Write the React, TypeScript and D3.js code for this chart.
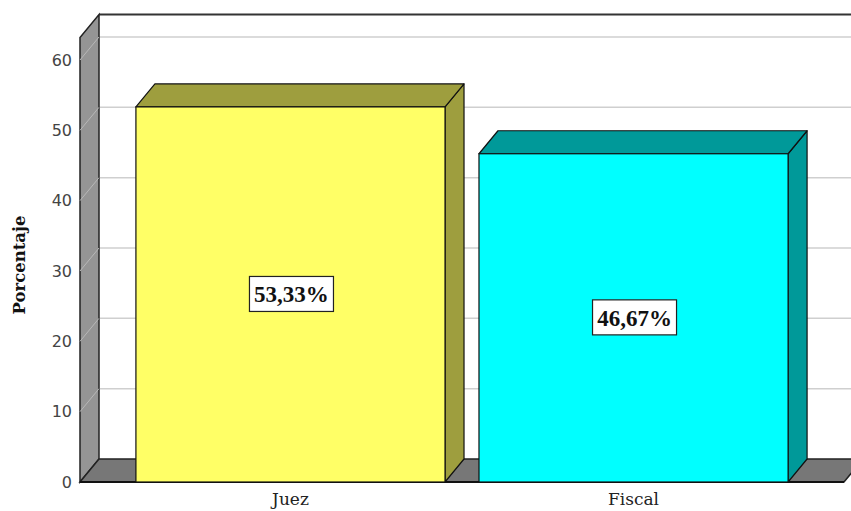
import React from "react";
import * as d3 from "d3";

const categories = ["Juez", "Fiscal"];
const values = [53.33, 46.67];
const valueLabels = ["53,33%", "46,67%"];
const yTicks = [0, 10, 20, 30, 40, 50, 60];
const frontColors = ["#FFFF66", "#00FFFF"];
const sideColors = ["#9E9E3E", "#009999"];

const W = 851;
const H = 511;
const DX = 19;
const DY = -23;
const Y_MAX = 63.2;

export default function App() {
  const x0 = 80;
  const x1 = 844;
  const y = d3.scaleLinear().domain([0, 60]).range([482, 60]);
  const x = d3
    .scaleBand<string>()
    .domain(categories)
    .range([x0, x1])
    .paddingInner(0.099)
    .paddingOuter(0.163);

  const yb = (v: number) => y(v) + DY;
  const top = y(Y_MAX);

  return (
    <svg width={W} height={H} style={{ position: "absolute", left: 0, top: 0 }}>
      <rect x={0} y={0} width={W} height={H} fill="#fff" />
      {/* back wall */}
      <rect x={x0 + DX} y={top + DY} width={x1 - x0} height={y(0) - top} fill="#fff" />
      {yTicks.filter((t) => t > 0).map((t) => (
        <line key={"g" + t} x1={x0 + DX} x2={x1 + DX} y1={yb(t)} y2={yb(t)} stroke="#cfcfcf" strokeWidth={1.5} />
      ))}
      <line x1={x0 + DX} x2={x1 + DX + 2} y1={top + DY} y2={top + DY} stroke="#333" strokeWidth={2} />
      {/* left wall */}
      <polygon
        points={`${x0},${y(0)} ${x0},${top} ${x0 + DX},${top + DY} ${x0 + DX},${y(0) + DY}`}
        fill="#959595"
        stroke="#222"
        strokeWidth={1.5}
      />
      {yTicks.filter((t) => t > 0).map((t) => (
        <line key={"w" + t} x1={x0} x2={x0 + DX} y1={y(t)} y2={yb(t)} stroke="#b8b8b8" strokeWidth={1} />
      ))}
      {/* floor */}
      <polygon
        points={`${x0},${y(0)} ${x0 + DX},${y(0) + DY} ${x1 + DX},${y(0) + DY} ${x1},${y(0)}`}
        fill="#777777"
        stroke="#222"
        strokeWidth={1.5}
      />
      <line x1={x0} x2={x1} y1={y(0)} y2={y(0)} stroke="#111" strokeWidth={2} />
      {/* bars */}
      {categories.map((c, i) => {
        const bx0 = x(c)!;
        const bx1 = bx0 + x.bandwidth();
        const vy = y(values[i]);
        const by = y(0);
        return (
          <g key={c}>
            <polygon
              points={`${bx1},${vy} ${bx1 + DX},${vy + DY} ${bx1 + DX},${by + DY} ${bx1},${by}`}
              fill={sideColors[i]}
              stroke="#111"
              strokeWidth={1.2}
              strokeLinejoin="round"
            />
            <polygon
              points={`${bx0},${vy} ${bx0 + DX},${vy + DY} ${bx1 + DX},${vy + DY} ${bx1},${vy}`}
              fill={sideColors[i]}
              stroke="#111"
              strokeWidth={1.2}
              strokeLinejoin="round"
            />
            <rect x={bx0} y={vy} width={bx1 - bx0} height={by - vy} fill={frontColors[i]} stroke="#111" strokeWidth={1.2} />
          </g>
        );
      })}
      {/* value labels */}
      {categories.map((c, i) => {
        const cx = x(c)! + x.bandwidth() / 2 + 1;
        const cy = (y(values[i]) + y(0)) / 2;
        return (
          <g key={"l" + c}>
            <rect x={cx - 42} y={cy - 18} width={84} height={35} fill="#fff" stroke="#222" strokeWidth={1.2} />
            <text
              x={cx}
              y={cy + 8}
              textAnchor="middle"
              fontFamily="'Liberation Serif', serif"
              fontWeight="bold"
              fontSize={23}
              fill="#111"
            >
              {valueLabels[i]}
            </text>
          </g>
        );
      })}
      {/* y tick labels */}
      {yTicks.map((t) => (
        <text
          key={"t" + t}
          x={72}
          y={y(t)}
          dy="0.35em"
          textAnchor="end"
          fontFamily="'DejaVu Sans', sans-serif"
          fontSize={16}
          fill="#444"
        >
          {t}
        </text>
      ))}
      {/* x labels */}
      {categories.map((c) => (
        <text
          key={"x" + c}
          x={x(c)! + x.bandwidth() / 2}
          y={505}
          textAnchor="middle"
          fontFamily="'DejaVu Serif', serif"
          fontSize={17}
          fill="#222"
        >
          {c}
        </text>
      ))}
      <text
        transform={`translate(25,265) rotate(-90)`}
        textAnchor="middle"
        fontFamily="'DejaVu Serif', serif"
        fontWeight="bold"
        fontSize={16.5}
        fill="#111"
      >
        Porcentaje
      </text>
    </svg>
  );
}
